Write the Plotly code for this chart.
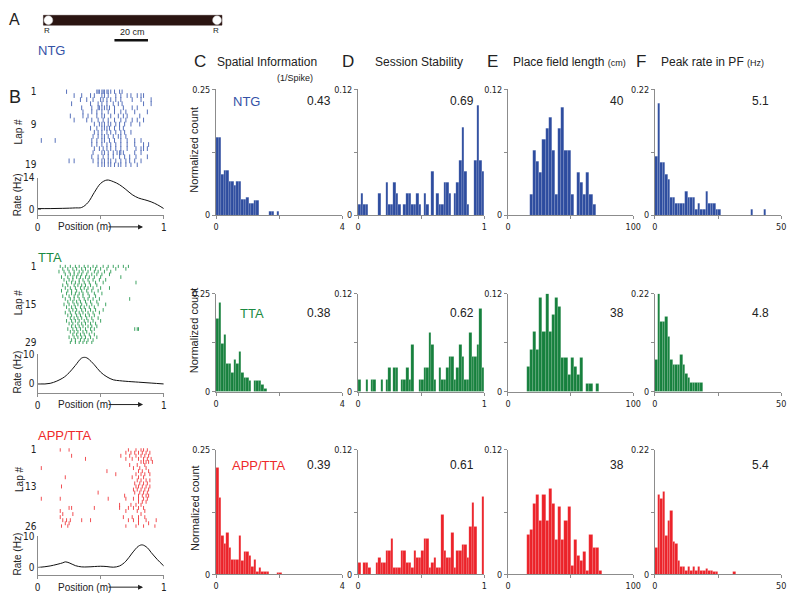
import plotly.graph_objects as go

W, H = 800, 600

# ---------------- data ----------------
GROUPS = ["NTG", "TTA", "APP/TTA"]
SI_MEANS = ["0.43", "0.38", "0.39"]
STAB_MEANS = ["0.69", "0.62", "0.61"]
PFL_MEANS = ["40", "38", "38"]
PEAK_MEANS = ["5.1", "4.8", "5.4"]

SI_BIN, STAB_BIN, PFL_BIN, PEAK_BIN = 0.08, 0.02, 2.5, 1.0

SI_NTG = [0.155, 0.155, 0.081, 0.088, 0.088, 0.066, 0.066, 0.060, 0.066, 0.066, 0.031, 0.031, 0.036,
          0.023, 0.023, 0.029, 0.029, 0, 0, 0, 0, 0.0065, 0.0065, 0, 0.0065]
SI_TTA = [0.187, 0.226, 0.123, 0.145, 0.073, 0.073, 0.050, 0.081, 0.071, 0.102, 0.050, 0.037, 0.037,
          0.029, 0, 0.029, 0.029, 0.029, 0.018, 0.008]
SI_APP = [0.213, 0.154, 0.0775, 0.062, 0.084, 0.053, 0.029, 0.029, 0.029, 0.0775, 0.027, 0.045, 0.045,
          0.038, 0.016, 0.029, 0.005, 0.014, 0.005, 0.006, 0.006, 0, 0, 0, 0.003, 0.003]

STAB_NTG = [0.0105, 0.021, 0.0105, 0.0105, 0, 0, 0, 0, 0.021, 0,
            0, 0.0315, 0.0105, 0.0105, 0.0315, 0.021, 0.0105, 0, 0.0105, 0.021,
            0.021, 0.0105, 0.0105, 0.021, 0.0105, 0, 0.021, 0.0105, 0, 0.042,
            0, 0.021, 0.0105, 0.0105, 0.0315, 0.0315, 0.021, 0, 0.021, 0.0315,
            0.0525, 0.084, 0.042, 0.0105, 0, 0, 0.0525, 0.105, 0.0525, 0.042]
STAB_TTA = [0.0145, 0, 0, 0.0145, 0, 0.0145, 0.0145, 0, 0, 0.0145,
            0, 0.0145, 0.029, 0, 0.029, 0.029, 0, 0.0145, 0.0145, 0.029,
            0.0145, 0.058, 0, 0, 0.0145, 0.0145, 0.029, 0.029, 0.0725, 0.058,
            0.0145, 0, 0.029, 0.0145, 0.0145, 0.029, 0.0435, 0.0435, 0.0145, 0.029,
            0.058, 0.0435, 0.0145, 0.0145, 0.0725, 0.0435, 0.0435, 0.058, 0.1015, 0.029]
STAB_APP = [0.011, 0, 0.011, 0.011, 0.006, 0, 0, 0.011, 0.016, 0.011,
            0.011, 0.0225, 0.0225, 0.034, 0.006, 0.006, 0.006, 0.0225, 0.0225, 0.011,
            0.011, 0.006, 0.0225, 0.016, 0.016, 0.0225, 0.034, 0.034, 0.006, 0.011,
            0.016, 0.006, 0.006, 0.057, 0.0225, 0.016, 0.016, 0.040, 0.006, 0.0225,
            0.0225, 0.029, 0.029, 0.016, 0.046, 0.069, 0.046, 0, 0, 0.075]

PFL_NTG = [0, 0, 0, 0, 0, 0, 0, 0.020, 0.062, 0.051, 0.041, 0.072, 0.083, 0.093, 0.062, 0.020,
           0.083, 0.103, 0.062, 0.062, 0.020, 0, 0.041, 0.031, 0.020, 0.041, 0.020, 0.010]
PFL_TTA = [0, 0, 0, 0, 0, 0, 0.031, 0.052, 0.073, 0.052, 0.115, 0.073, 0.120, 0.073, 0.094, 0.115,
           0.104, 0.042, 0.042, 0.021, 0.042, 0.031, 0.021, 0.042, 0, 0.010, 0.010, 0, 0.010]
PFL_APP = [0, 0, 0, 0, 0, 0, 0.038, 0.043, 0.068, 0.077, 0.052, 0.077, 0.052, 0.082, 0.068, 0.033,
           0.065, 0.033, 0.052, 0.065, 0.008, 0.033, 0.018, 0.013, 0.022, 0.004, 0.038, 0.026, 0.026, 0.004]

PEAK_NTG = [0.103, 0.196, 0.093, 0.093, 0.071, 0.062, 0.031, 0.031, 0.020, 0.020, 0.020, 0.020, 0.041,
            0.031, 0.031, 0.031, 0.010, 0.020, 0.010, 0.010, 0.041, 0.020, 0.020, 0.020, 0.010, 0.010,
            0, 0, 0, 0, 0, 0, 0, 0, 0, 0, 0, 0, 0.010, 0, 0, 0, 0, 0.010]
PEAK_TTA = [0.073, 0.22, 0.157, 0.157, 0.168, 0.124, 0.073, 0.062, 0.062, 0.062, 0.084, 0.062, 0.040,
            0.031, 0.020, 0.020, 0.020, 0.020, 0.020]
PEAK_APP = [0.047, 0.140, 0.133, 0.146, 0.068, 0.095, 0.112, 0.057, 0.054, 0.024, 0.014, 0.014, 0.007,
            0.014, 0.007, 0.014, 0.007, 0.014, 0.007, 0.007, 0.010, 0.007, 0.007, 0.004, 0.004,
            0, 0, 0, 0, 0, 0, 0.004]

# rate maps (position in m, rate in Hz)
RATE_POS_NTG = [0, 0.1, 0.2, 0.3, 0.35, 0.4, 0.45, 0.5, 0.55, 0.6, 0.65, 0.7, 0.75, 0.8, 0.85, 0.9, 0.95, 1.0]
RATE_NTG = [0.3, 0.3, 0.4, 0.6, 0.8, 3, 7.5, 11.5, 13, 12.3, 10.9, 8.8, 6.5, 5, 4.2, 3.3, 2, 0.3]
RATE_POS_TTA = [0, 0.1, 0.2, 0.25, 0.3, 0.35, 0.38, 0.4, 0.45, 0.5, 0.55, 0.6, 0.65, 0.7, 0.8, 0.9, 1.0]
RATE_TTA = [0, 0.2, 2, 3.8, 6.3, 8.8, 9.0, 8.6, 6.5, 4, 2.4, 1.4, 1.1, 0.9, 0.6, 0.3, 0]
RATE_POS_APP = [0, 0.1, 0.2, 0.22, 0.25, 0.3, 0.35, 0.4, 0.5, 0.55, 0.6, 0.65, 0.7, 0.75, 0.8, 0.83, 0.87, 0.9, 0.95, 1.0]
RATE_APP = [0, 0.5, 1.5, 1.8, 1.5, 0.6, 0.2, 0.2, 0.4, 0.3, 0.1, 0.5, 2.0, 4.6, 6.8, 7.2, 6.3, 4.8, 2.5, 0.5]
RATE_MAX = [14, 10, 10]

# spike rasters: spike positions (% of track) per lap
RASTER_NTG = [
    [23, 47, 48, 49, 51, 52, 53, 55, 56, 58, 61, 65, 67],
    [29, 35, 42, 45, 51, 53, 56, 62, 66, 71, 74, 79, 82, 84],
    [34, 39, 44, 50, 52, 55, 58, 62, 66, 75, 82, 90],
    [27, 42, 48, 51, 55, 60, 64, 67, 84, 90],
    [35, 43, 48, 49, 51, 53, 55, 57, 61, 68, 75, 79],
    [36, 43, 47, 51, 56, 61, 66, 70, 77, 87],
    [26, 36, 40, 47, 51, 53, 58, 64, 68, 71, 81],
    [29, 39, 43, 48, 52, 56, 61, 66, 70, 75, 79, 84],
    [45, 49, 51, 53, 56, 58, 62, 65, 69, 74, 81],
    [42, 47, 51, 53, 55, 57, 61, 65, 68],
    [45, 48, 51, 55, 58, 62, 66, 69, 74],
    [44, 48, 51, 53, 56, 60, 64, 66, 70],
    [3, 14, 43, 47, 51, 53, 57, 61, 66, 71, 77, 82],
    [43, 47, 51, 55, 58, 62, 66, 71, 77, 84, 88],
    [45, 49, 52, 55, 58, 62, 66, 71, 78, 82, 84, 87],
    [44, 51, 53, 56, 60, 63, 65, 66, 68, 77, 82],
    [43, 48, 52, 56, 60, 65, 69, 73, 78, 87],
    [25, 29, 44, 48, 51, 53, 56, 58, 62, 66, 70, 73, 77, 82],
    [48, 51, 53, 56, 58, 61, 64, 66, 70, 74, 79],
]
RASTER_TTA = [
    [18, 22, 26, 30, 33, 37, 40, 44, 47, 52, 56, 60, 64, 68, 72],
    [20, 24, 28, 31, 35, 38, 42, 46, 50, 55, 62, 70],
    [17, 21, 25, 29, 33, 36, 40, 45, 48, 53, 58],
    [22, 26, 29, 32, 35, 39, 43, 47, 51, 57],
    [19, 24, 28, 31, 34, 38, 41, 45, 50, 66],
    [21, 25, 28, 33, 36, 40, 44, 49, 54],
    [23, 27, 30, 33, 37, 41, 46, 52, 78],
    [20, 24, 29, 32, 35, 38, 42, 47],
    [22, 26, 30, 34, 37, 40, 44, 50, 57],
    [19, 24, 27, 31, 35, 39, 43, 48],
    [23, 27, 30, 33, 36, 40, 45, 51],
    [20, 25, 29, 32, 36, 41, 46],
    [22, 26, 29, 33, 37, 40, 44, 49, 73],
    [24, 28, 31, 34, 38, 42, 47],
    [21, 25, 29, 32, 35, 39, 43, 48, 54],
    [23, 27, 30, 34, 37, 41, 45],
    [25, 28, 31, 35, 38, 42, 46, 52],
    [22, 26, 30, 33, 36, 40, 44, 49],
    [24, 27, 31, 34, 38, 41, 45],
    [26, 29, 32, 35, 39, 43, 48],
    [23, 27, 30, 33, 37, 40, 44, 50],
    [25, 28, 32, 35, 38, 42, 46],
    [27, 30, 33, 36, 40, 43, 47],
    [24, 28, 31, 34, 38, 42, 45, 77, 79, 80],
    [26, 29, 32, 36, 39, 43],
    [28, 31, 34, 37, 41, 45],
    [25, 29, 32, 35, 38, 42, 47],
    [27, 30, 34, 37, 40, 44],
    [26, 30, 33, 36, 39, 43],
]
RASTER_APP = [
    [18, 25, 72, 78, 82, 84, 87],
    [70, 74, 77, 80, 83, 86, 89],
    [27, 66, 73, 78, 82, 85, 88],
    [38, 70, 75, 80, 84, 87, 90],
    [82, 84, 86, 88, 91],
    [73, 79, 85],
    [3, 76, 81, 86],
    [55, 80, 83, 88],
    [62, 78, 82, 85, 89],
    [22, 75, 80, 84],
    [79, 82, 86, 89],
    [77, 81, 84, 87],
    [19, 78, 80, 83, 86, 89],
    [76, 79, 82, 85, 88],
    [48, 77, 81, 84, 87],
    [69, 80, 83, 86, 88],
    [3, 18, 56, 70, 76, 80, 84, 87],
    [80, 83, 86],
    [65, 74, 78, 82],
    [25, 27, 45, 65, 72, 76, 80, 84],
    [18, 70, 79, 85],
    [20, 28, 82],
    [18, 68, 75, 80, 85],
    [20, 23, 26, 35, 42, 72, 76, 80, 86, 94],
    [22, 25, 80, 88],
    [19, 24, 70, 78, 84, 93],
]
LAP_TICKS = [[1, 9, 19], [1, 15, 29], [1, 13, 26]]

# ---------------- styling ----------------
BAR_COLORS = ["#2d4c9f", "#16803d", "#ec2229"]
TICK_COLORS = ["#4461b3", "#2a9a52", "#ef3b3f"]
TEXT_COLORS = ["#3452a6", "#1b8a42", "#ee2a2a"]
AXC = "#8c8c8c"
FONT = "Liberation Sans, Arial, Helvetica, sans-serif"
NARROW = "Liberation Sans Narrow, DejaVu Sans Condensed, Arial Narrow, sans-serif"
TICKF = dict(family=NARROW, size=9, color="#222")
SMALLF = dict(family=NARROW, size=10, color="#222")

fig = go.Figure()
layout = {}
annotations = []
shapes = []
n_ax = [0]


def fx(p):
    return p / W


def fy(p):
    return 1 - p / H


def add_axes(xpx, ypx, xa, ya):
    n_ax[0] += 1
    s = "" if n_ax[0] == 1 else str(n_ax[0])
    layout["xaxis" + s] = dict(domain=[fx(xpx[0]), fx(xpx[1])], anchor="y" + s, **xa)
    layout["yaxis" + s] = dict(domain=[fy(ypx[1]), fy(ypx[0])], anchor="x" + s, **ya)
    return "x" + s, "y" + s


def text(t, x, y, size=11, color="#222", xanchor="center", yanchor="middle", angle=0, family=FONT):
    annotations.append(dict(text=t, x=fx(x), y=fy(y), xref="paper", yref="paper", showarrow=False,
                            font=dict(size=size, color=color, family=family), xanchor=xanchor,
                            yanchor=yanchor, textangle=angle))


def axis_style(font, ticks="outside"):
    return dict(showline=True, linecolor=AXC, linewidth=1, ticks=ticks, ticklen=3, tickwidth=1,
                tickcolor=AXC, showgrid=False, zeroline=False, tickfont=font, fixedrange=True)


# ---------------- histograms ----------------
HIST_COLS = [(216, 344), (360, 488), (512, 639), (661, 789)]
HIST_ROWS = [(85, 213), (293, 393), (452, 579)]
HIST_SPECS = [
    (SI_BIN, 4, "4", 0.25, "0.25", [SI_NTG, SI_TTA, SI_APP], SI_MEANS),
    (STAB_BIN, 1, "1", 0.12, "0.12", [STAB_NTG, STAB_TTA, STAB_APP], STAB_MEANS),
    (PFL_BIN, 100, "100", 0.12, "0.12", [PFL_NTG, PFL_TTA, PFL_APP], PFL_MEANS),
    (PEAK_BIN, 50, "50", 0.22, "0.22", [PEAK_NTG, PEAK_TTA, PEAK_APP], PEAK_MEANS),
]
MEAN_X = [320, 465, 623, 768]
LABEL_Y = [97, 313, 468]
GROUP_X = [247, 252, 260]

for g in range(3):
    for c, (bw, xmax, xlab, ymax, ylab, series, means) in enumerate(HIST_SPECS):
        xa = dict(range=[0, xmax], tickmode="array", tickvals=[0, xmax / 2, xmax],
                  ticktext=["0", "", xlab], **axis_style(TICKF))
        ya = dict(range=[0, ymax], tickmode="array", tickvals=[0, ymax / 2, ymax],
                  ticktext=["0", "", ylab], **axis_style(TICKF))
        xr, yr = add_axes(HIST_COLS[c], HIST_ROWS[g], xa, ya)
        vals = series[g]
        fig.add_trace(go.Bar(x=[bw * (i + 0.5) for i in range(len(vals))], y=vals, width=bw,
                             marker=dict(color=BAR_COLORS[g],
                                         line=dict(color="rgba(255,255,255,0.3)", width=0.4)),
                             xaxis=xr, yaxis=yr, showlegend=False, hoverinfo="skip"))
        text(means[g], MEAN_X[c], LABEL_Y[g], size=12)
    text(GROUPS[g], GROUP_X[g], LABEL_Y[g], size=13, color=TEXT_COLORS[g])

text("Normalized count", 194, 146, size=11, angle=-90)
text("Normalized count", 194, 330, size=11, angle=-90)
text("Normalized count", 194, 511, size=11, angle=-90)

# column headers
text("C", 192, 57, size=17, xanchor="left")
text("Spatial Information", 215, 57, size=12, xanchor="left")
text("(1/Spike)", 296, 73, size=9)
text("D", 342, 57, size=17, xanchor="left")
text("Session Stability", 375, 57, size=12, xanchor="left")
text("E", 489, 57, size=17, xanchor="left")
text("Place field length <span style='font-size:9px'>(cm)</span>", 515, 57, size=12, xanchor="left")
text("F", 640, 57, size=17, xanchor="left")
text("Peak rate in PF <span style='font-size:9px'>(Hz)</span>", 665, 57, size=12, xanchor="left")

# ---------------- panel B: rasters and rate maps ----------------
B_X = (35, 163)
RASTER_ROWS = [(85, 164), (263.6, 344.4), (450.4, 531.6)]
RATE_ROWS = [(175, 213), (355, 394), (540, 580)]
RATE_BOTTOM = [-2.6, -3.0, -2.5]
RASTERS = [RASTER_NTG, RASTER_TTA, RASTER_APP]
RATE_X = [RATE_POS_NTG, RATE_POS_TTA, RATE_POS_APP]
RATE_Y = [RATE_NTG, RATE_TTA, RATE_APP]
GROUP_LABEL_Y = [45, 256, 438]
LAPTXT_Y = [128, 302, 482]
TICK_SIZE = [3.4, 2.6, 2.8]

for g in range(3):
    laps = RASTERS[g]
    nl = len(laps)
    xa = dict(range=[0, 1], visible=False, fixedrange=True)
    ya = dict(range=[nl + 0.5, 0.5], tickmode="array", tickvals=LAP_TICKS[g],
              ticktext=[str(v) for v in LAP_TICKS[g]], showline=False, showgrid=False,
              zeroline=False, ticks="", tickfont=SMALLF, fixedrange=True)
    xr, yr = add_axes(B_X, RASTER_ROWS[g], xa, ya)
    xs, ys = [], []
    for i, lap in enumerate(laps):
        for p in lap:
            xs.append(p / 100)
            ys.append(i + 1)
    fig.add_trace(go.Scatter(x=xs, y=ys, mode="markers", xaxis=xr, yaxis=yr, showlegend=False,
                             hoverinfo="skip",
                             marker=dict(symbol="line-ns", size=TICK_SIZE[g],
                                         line=dict(color=TICK_COLORS[g], width=0.9))))
    # rate map
    rm = RATE_MAX[g]
    xa = dict(range=[0, 1], tickmode="array", tickvals=[0, 0.5, 1], ticktext=["0", "", "1"],
              **axis_style(SMALLF))
    ya = dict(range=[RATE_BOTTOM[g], rm], tickmode="array", tickvals=[0, rm],
              ticktext=["0", str(rm)], **axis_style(SMALLF, ticks="inside"))
    xr, yr = add_axes(B_X, RATE_ROWS[g], xa, ya)
    fig.add_trace(go.Scatter(x=RATE_X[g], y=RATE_Y[g], mode="lines", line=dict(color="#111", width=1,
                             shape="spline", smoothing=1.0), xaxis=xr, yaxis=yr,
                             showlegend=False, hoverinfo="skip"))
    q0, q1 = RATE_ROWS[g]
    text("Lap #", 16, LAPTXT_Y[g], size=10, angle=-90)
    text("Rate (Hz)", 15, (q0 + q1) / 2 - 2, size=10, angle=-90)
    text("Position (m)", 83, q1 + 12, size=10)
    annotations.append(dict(x=fx(142), y=fy(q1 + 12), xref="paper", yref="paper", text="",
                            showarrow=True, ax=-36, ay=0, arrowhead=2, arrowsize=1, arrowwidth=1,
                            arrowcolor="#222"))
    text(GROUPS[g], 33, GROUP_LABEL_Y[g], size=13, color=TEXT_COLORS[g], xanchor="left")

text("B", 4, 93, size=18, xanchor="left")

# ---------------- panel A: linear track ----------------
text("A", 4, 14, size=16, xanchor="left")
shapes.append(dict(type="rect", xref="paper", yref="paper", x0=fx(41), x1=fx(222), y0=fy(19.5), y1=fy(9.5),
                   fillcolor="#2b1512", line=dict(color="#2b1512", width=0.5)))
for cx in (46, 217):
    shapes.append(dict(type="circle", xref="paper", yref="paper", x0=fx(cx - 4.5), x1=fx(cx + 4.5),
                       y0=fy(19), y1=fy(10), fillcolor="white", line=dict(color="#bbb", width=0.5)))
    text("R", cx - 1, 25, size=8)
shapes.append(dict(type="line", xref="paper", yref="paper", x0=fx(113), x1=fx(147), y0=fy(35), y1=fy(35),
                   line=dict(color="#111", width=2.5)))
text("20 cm", 131, 26, size=9)

layout.update(dict(width=W, height=H, margin=dict(l=0, r=0, t=0, b=0), paper_bgcolor="white",
                   plot_bgcolor="white", bargap=0, showlegend=False, annotations=annotations,
                   shapes=shapes, font=dict(family=FONT, color="#222")))
fig.update_layout(**layout)
fig.write_html("out.html", config={"responsive": False, "displayModeBar": False},
               default_width="800px", default_height="600px",
               post_script="document.body.style.margin='0px';document.body.style.overflow='hidden';")
